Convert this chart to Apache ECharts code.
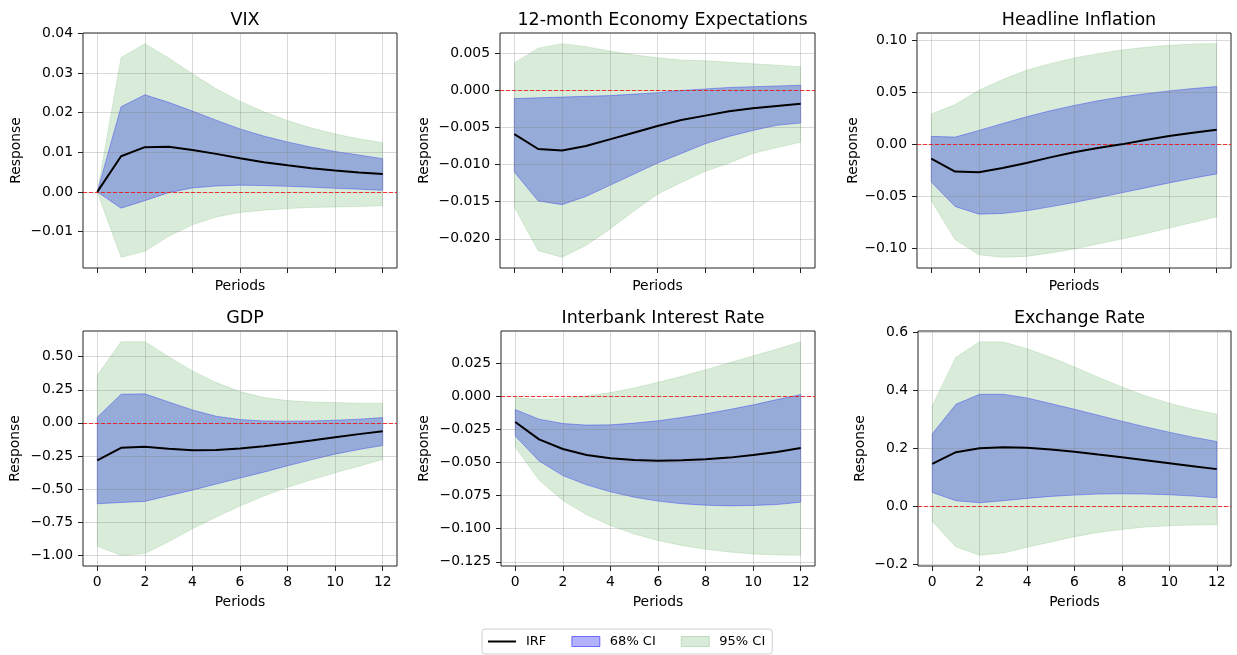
<!DOCTYPE html>
<html>
<head>
<meta charset="utf-8">
<script src="https://cdn.jsdelivr.net/npm/echarts@6/dist/echarts.min.js"></script>
<style>html,body{margin:0;padding:0;background:#fff}#c{width:1237px;height:655px}</style>
</head>
<body>
<div id="c"></div>
<script>
// ---- data ----
const periods = [0,1,2,3,4,5,6,7,8,9,10,11,12];
const xTicks = [0,2,4,6,8,10,12];
const titles = ['VIX','12-month Economy Expectations','Headline Inflation','GDP','Interbank Interest Rate','Exchange Rate'];

const vixIrf  = [0,0.0090,0.0113,0.0114,0.0106,0.0096,0.0085,0.0075,0.0067,0.0060,0.0054,0.0049,0.0045];
const vixLo68 = [0,-0.0041,-0.0022,-0.0002,0.0010,0.0015,0.0017,0.0016,0.0014,0.0012,0.0009,0.0007,0.0004];
const vixHi68 = [0,0.0215,0.0245,0.0226,0.0204,0.0181,0.0159,0.0141,0.0126,0.0113,0.0102,0.0093,0.0084];
const vixLo95 = [0,-0.0165,-0.0150,-0.0112,-0.0083,-0.0063,-0.0052,-0.0046,-0.0042,-0.0039,-0.0038,-0.0037,-0.0035];
const vixHi95 = [0,0.0339,0.0374,0.0338,0.0298,0.0260,0.0229,0.0202,0.0180,0.0161,0.0146,0.0134,0.0124];
const vixTicks = [-0.01,0,0.01,0.02,0.03,0.04];

const expIrf  = [-0.0059,-0.0079,-0.0081,-0.0075,-0.0066,-0.0057,-0.0048,-0.0040,-0.0034,-0.0028,-0.0024,-0.0021,-0.0018];
const expLo68 = [-0.0110,-0.0149,-0.0154,-0.0143,-0.0128,-0.0113,-0.0098,-0.0085,-0.0072,-0.0062,-0.0054,-0.0047,-0.0044];
const expHi68 = [-0.0011,-0.0010,-0.0009,-0.0008,-0.0007,-0.0005,-0.0003,0.0000,0.0002,0.0004,0.0005,0.0006,0.0007];
const expLo95 = [-0.0157,-0.0216,-0.0225,-0.0209,-0.0187,-0.0163,-0.0140,-0.0124,-0.0109,-0.0098,-0.0085,-0.0077,-0.0070];
const expHi95 = [0.0037,0.0057,0.0063,0.0059,0.0053,0.0048,0.0044,0.0041,0.0040,0.0038,0.0036,0.0034,0.0032];
const expTicks = [-0.020,-0.015,-0.010,-0.005,0,0.005];

const infIrf  = [-0.0137,-0.0262,-0.0268,-0.0227,-0.0179,-0.0125,-0.0076,-0.0035,0.0000,0.0042,0.0080,0.0112,0.0141];
const infLo68 = [-0.0361,-0.0597,-0.0671,-0.0665,-0.0639,-0.0601,-0.0559,-0.0514,-0.0466,-0.0419,-0.0371,-0.0326,-0.0284];
const infHi68 = [0.0077,0.0070,0.0134,0.0201,0.0265,0.0323,0.0374,0.0419,0.0457,0.0486,0.0514,0.0537,0.0556];
const infLo95 = [-0.0543,-0.0914,-0.1061,-0.1086,-0.1077,-0.1045,-0.1006,-0.0958,-0.0911,-0.0859,-0.0805,-0.0751,-0.0696];
const infHi95 = [0.0291,0.0383,0.0521,0.0623,0.0712,0.0776,0.0831,0.0872,0.0907,0.0933,0.0952,0.0965,0.0968];
const infTicks = [-0.10,-0.05,0,0.05,0.10];

const gdpIrf  = [-0.284,-0.188,-0.181,-0.196,-0.206,-0.204,-0.193,-0.176,-0.156,-0.133,-0.108,-0.085,-0.063];
const gdpLo68 = [-0.611,-0.601,-0.593,-0.550,-0.508,-0.462,-0.417,-0.372,-0.324,-0.279,-0.236,-0.201,-0.171];
const gdpHi68 = [0.043,0.216,0.219,0.158,0.098,0.050,0.025,0.015,0.013,0.015,0.020,0.028,0.040];
const gdpLo95 = [-0.932,-1.000,-0.987,-0.897,-0.799,-0.711,-0.628,-0.553,-0.487,-0.430,-0.377,-0.327,-0.276];
const gdpHi95 = [0.359,0.613,0.613,0.500,0.392,0.304,0.236,0.191,0.168,0.158,0.153,0.148,0.148];
const gdpTicks = [-1.00,-0.75,-0.50,-0.25,0,0.25,0.50];

const ibkIrf  = [-0.0193,-0.0324,-0.0397,-0.0442,-0.0467,-0.0480,-0.0485,-0.0482,-0.0475,-0.0462,-0.0442,-0.0420,-0.0389];
const ibkLo68 = [-0.0299,-0.0487,-0.0598,-0.0668,-0.0721,-0.0761,-0.0791,-0.0811,-0.0822,-0.0827,-0.0824,-0.0817,-0.0799];
const ibkHi68 = [-0.0098,-0.0171,-0.0204,-0.0216,-0.0214,-0.0201,-0.0183,-0.0158,-0.0131,-0.0098,-0.0063,-0.0023,0.0015];
const ibkLo95 = [-0.0384,-0.0631,-0.0786,-0.0894,-0.0975,-0.1040,-0.1088,-0.1126,-0.1156,-0.1176,-0.1191,-0.1198,-0.1201];
const ibkHi95 = [-0.0008,-0.0023,-0.0015,0.0005,0.0030,0.0065,0.0108,0.0153,0.0203,0.0256,0.0307,0.0359,0.0415];
const ibkTicks = [-0.125,-0.100,-0.075,-0.050,-0.025,0,0.025];

const fxIrf  = [0.1465,0.1865,0.2003,0.2037,0.2014,0.1957,0.1877,0.1785,0.1694,0.1591,0.1488,0.1385,0.1282];
const fxLo68 = [0.0481,0.0195,0.0126,0.0195,0.0275,0.0343,0.0389,0.0423,0.0435,0.0423,0.0401,0.0355,0.0298];
const fxHi68 = [0.2495,0.3513,0.3857,0.3857,0.3731,0.3536,0.3342,0.3136,0.2930,0.2735,0.2552,0.2381,0.2232];
const fxLo95 = [-0.0515,-0.1396,-0.1682,-0.1602,-0.1408,-0.1225,-0.1041,-0.0893,-0.0790,-0.0710,-0.0664,-0.0641,-0.0629];
const fxHi95 = [0.3456,0.5127,0.5665,0.5654,0.5425,0.5127,0.4796,0.4441,0.4109,0.3800,0.3548,0.3342,0.3170];
const fxTicks = [-0.2,0,0.2,0.4,0.6];

const decimals = [2,3,2,2,3,1];

// ---- build ----
const panels = [
  {irf:vixIrf,lo68:vixLo68,hi68:vixHi68,lo95:vixLo95,hi95:vixHi95,ticks:vixTicks},
  {irf:expIrf,lo68:expLo68,hi68:expHi68,lo95:expLo95,hi95:expHi95,ticks:expTicks},
  {irf:infIrf,lo68:infLo68,hi68:infHi68,lo95:infLo95,hi95:infHi95,ticks:infTicks},
  {irf:gdpIrf,lo68:gdpLo68,hi68:gdpHi68,lo95:gdpLo95,hi95:gdpHi95,ticks:gdpTicks},
  {irf:ibkIrf,lo68:ibkLo68,hi68:ibkHi68,lo95:ibkLo95,hi95:ibkHi95,ticks:ibkTicks},
  {irf:fxIrf,lo68:fxLo68,hi68:fxHi68,lo95:fxLo95,hi95:fxHi95,ticks:fxTicks}
];

const FONT = 'DejaVu Sans';
const gridPos = [
  {left:83,top:33,width:314,height:235},
  {left:500,top:33,width:315,height:235},
  {left:917,top:33,width:314,height:235},
  {left:83,top:331,width:314,height:235},
  {left:501,top:331,width:314,height:235},
  {left:918,top:331,width:313,height:235}
];
const yNameGap = [60,69,56,61,70,51];

const GREEN_FILL = 'rgba(0,128,0,0.15)';
const GREEN_EDGE = 'rgba(0,128,0,0.12)';
const BLUE_FILL = 'rgba(0,20,220,0.3)';
const BLUE_EDGE = 'rgba(0,0,255,0.3)';

function fmt(v, d){
  const s = Math.abs(v).toFixed(d);
  return (v < -1e-12 ? '\u2212' : '') + s;
}

// band polygon drawn through the axis scale (api.coord)
function bandSeries(i, lo, hi, name, fill, edge){
  return {
    type:'custom', name:name, xAxisIndex:i, yAxisIndex:i, silent:true, animation:false, z:1, clip:true,
    data: periods.map((x,k)=>[x, lo[k], hi[k]]),
    itemStyle:{color:fill},
    renderItem: function(params, api){
      if (params.dataIndex !== 0) return null;
      const n = periods.length;
      const ptsArr = [];
      for (let k = 0; k < n; k++) ptsArr.push(api.coord([periods[k], hi[k]]));
      for (let k = n-1; k >= 0; k--) ptsArr.push(api.coord([periods[k], lo[k]]));
      return {type:'polygon', shape:{points:ptsArr}, style:{fill:fill, stroke:edge, lineWidth:1}};
    }
  };
}

const grids = [], xAxes = [], yAxes = [], series = [], titleOpts = [];
panels.forEach((p, i) => {
  const g = gridPos[i];
  grids.push(Object.assign({show:true, borderColor:'#222', borderWidth:1, backgroundColor:'transparent', z:3}, g));
  titleOpts.push({
    text: titles[i], left: g.left + g.width/2, top: (i<3 ? 6 : 304), textAlign:'center',
    textStyle:{fontFamily:FONT, fontSize:17.5, fontWeight:'normal', color:'#000'}
  });
  const all = [].concat(p.lo95, p.hi95, p.lo68, p.hi68, p.irf);
  const mn = Math.min.apply(null, all), mx = Math.max.apply(null, all);
  const pad = (mx - mn) * 0.05;
  const bottomRow = i >= 3;
  xAxes.push({
    type:'value', gridIndex:i, min:-0.6, max:12.6, z:3,
    name:'Periods', nameLocation:'middle', nameGap: bottomRow ? 29 : 11,
    nameTextStyle:{fontFamily:FONT, fontSize:13.9, color:'#000'},
    axisLine:{show:false, onZero:false},
    axisTick:{show:true, length:5, customValues:xTicks, lineStyle:{color:'#222', width:1}},
    axisLabel:{show:bottomRow, customValues:xTicks, margin:9, fontFamily:FONT, fontSize:13.9, color:'#000',
      formatter:v=>String(v)},
    splitLine:{show:true, lineStyle:{color:'rgba(128,128,128,0.3)', width:1}}
  });
  const d = decimals[i];
  yAxes.push({
    type:'value', gridIndex:i, min:mn - pad, max:mx + pad, z:3,
    name:'Response', nameLocation:'middle', nameGap:yNameGap[i],
    nameTextStyle:{fontFamily:FONT, fontSize:13.9, color:'#000'},
    axisLine:{show:false, onZero:false},
    axisTick:{show:true, length:5, customValues:p.ticks, lineStyle:{color:'#222', width:1}},
    axisLabel:{show:true, customValues:p.ticks, margin:10, fontFamily:FONT, fontSize:13.9, color:'#000',
      formatter:v=>fmt(v,d)},
    splitLine:{show:true, lineStyle:{color:'rgba(128,128,128,0.3)', width:1}}
  });
  series.push(bandSeries(i, p.lo95, p.hi95, '95% CI', GREEN_FILL, GREEN_EDGE));
  series.push(bandSeries(i, p.lo68, p.hi68, '68% CI', BLUE_FILL, BLUE_EDGE));
  series.push({type:'line', name:'IRF', xAxisIndex:i, yAxisIndex:i, symbol:'none', showSymbol:false, silent:true, animation:false,
    z:5, data:periods.map((x,k)=>[x, p.irf[k]]), lineStyle:{color:'#000', width:2}, itemStyle:{color:'#000'},
    markLine:{silent:true, symbol:'none', animation:false, label:{show:false}, z:4,
      lineStyle:{color:'rgba(255,0,0,0.85)', type:[4,2], width:0.9}, data:[{yAxis:0}]}});
});

const chart = echarts.init(document.getElementById('c'), null, {renderer:'canvas'});
chart.setOption({
  backgroundColor:'#fff',
  animation:false,
  title: titleOpts,
  grid: grids,
  xAxis: xAxes,
  yAxis: yAxes,
  legend:{
    bottom:1, left:482, orient:'horizontal',
    borderColor:'#d0d0d0', borderWidth:1, borderRadius:3, padding:[6,7,6,6],
    itemWidth:28, itemHeight:10, itemGap:25, selectedMode:false,
    textStyle:{fontFamily:FONT, fontSize:13, color:'#000', padding:[0,0,0,5]},
    data:[
      {name:'IRF', icon:'path://M0,0H28V2H0Z', itemStyle:{color:'#000', borderWidth:0}},
      {name:'68% CI', icon:'rect', itemStyle:{color:'rgba(0,0,255,0.3)', borderColor:'rgba(0,0,255,0.5)', borderWidth:1}},
      {name:'95% CI', icon:'rect', itemStyle:{color:'rgba(0,128,0,0.15)', borderColor:'rgba(0,128,0,0.2)', borderWidth:1}}
    ]
  },
  series: series
});
</script>
</body>
</html>
